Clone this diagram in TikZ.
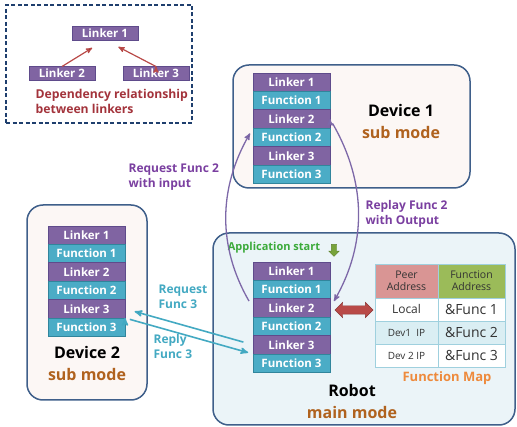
\documentclass[tikz,border=0pt]{standalone}
\usepackage{fontspec}
\setmainfont{Open Sans}
\usetikzlibrary{arrows,positioning,shapes.arrows}

\definecolor{linkerfill}{HTML}{8064A2}
\definecolor{linkerline}{HTML}{5F4B8B}
\definecolor{funcfill}{HTML}{4BACC6}
\definecolor{funcline}{HTML}{31859C}
\definecolor{boxline}{HTML}{3F5F8A}
\definecolor{subfill}{HTML}{FCF7F5}
\definecolor{mainfill}{HTML}{EBF4F8}
\definecolor{modetext}{HTML}{B0621E}
\definecolor{reqpurple}{HTML}{7A3FA0}
\definecolor{curvepurple}{HTML}{7D68A8}
\definecolor{reqteal}{HTML}{43A9C2}
\definecolor{deptext}{HTML}{A3333B}
\definecolor{deparrow}{HTML}{B94A48}
\definecolor{mapline}{HTML}{9FD0DE}
\definecolor{peerfill}{HTML}{D99594}
\definecolor{funcaddrfill}{HTML}{9BBB59}
\definecolor{rowblue}{HTML}{DAEEF3}
\definecolor{maporange}{HTML}{EE8A3C}
\definecolor{startgreen}{HTML}{3BAA3A}
\definecolor{startarrow}{HTML}{77A33A}
\definecolor{dashblue}{HTML}{1F3F6E}

\begin{document}
\begin{tikzpicture}[x=1pt, y=-1pt, >=stealth', semithick]
\tikzstyle{linker}=[draw=linkerline, fill=linkerfill, text=white, minimum width=77pt, minimum height=18.4pt, inner sep=0pt, outer sep=0pt, font=\fontsize{11.5}{12}\selectfont\bfseries]
\tikzstyle{func}=[linker, draw=funcline, fill=funcfill]
\tikzstyle{small linker}=[linker, minimum width=66pt, minimum height=14pt]
\tikzstyle{subbox}=[draw=boxline, line width=1.5pt, fill=subfill, rounded corners=16pt, inner sep=0pt]
\tikzstyle{mainbox}=[subbox, fill=mainfill]
\tikzstyle{title}=[font=\fontsize{16}{22}\selectfont\bfseries, align=center]
\tikzstyle{msg}=[font=\fontsize{12}{15}\selectfont\bfseries, align=left, anchor=west]
\tikzstyle{cell}=[draw=mapline, thick, minimum height=23pt, inner sep=0pt, outer sep=0pt, text=black!80]
\tikzstyle{dep}=[->, draw=deparrow, line width=1.2pt]
\tikzstyle{call}=[->, draw=curvepurple, line width=1.3pt]
\tikzstyle{remote}=[->, draw=reqteal, line width=1.6pt]

\useasboundingbox (0,0) rectangle (517,427);

% linker dependency legend
\node[draw=dashblue, line width=1.2pt, dash pattern=on 4pt off 2.5pt, minimum width=186pt, minimum height=118pt] (depbox) at (99,64) {};
\node[small linker] (dl1) at (105,33) {Linker 1};
\node[small linker] (dl2) at (62,73.5) {Linker 2};
\node[small linker] (dl3) at (156,73.5) {Linker 3};
\node[anchor=north west, align=left, text=deptext, font=\fontsize{12.2}{15}\selectfont\bfseries] (deptxt) at (32,86) {Dependency relationship\\between linkers};

\path[dep]
	(dl2.north) edge[shorten >=15pt] (dl1.south)
	(dl3.north) edge[shorten >=15pt] (dl1.south)
;

% the three modes
\node[subbox, minimum width=237pt, minimum height=123pt] (dev1) at (351.5,126.5) {};
\node[subbox, minimum width=120pt, minimum height=195pt] (dev2) at (87,302.5) {};
\node[mainbox, minimum width=302pt, minimum height=192pt] (robot) at (364,329) {};

\node[title] (dev1lbl) at (401,122) {Device 1\\{\color{modetext}sub mode}};
\node[title] (dev2lbl) at (87,363.5) {Device 2\\{\color{modetext}sub mode}};
\node[title] (robotlbl) at (352,402) {Robot\\{\color{modetext}main mode}};

% device 1 stack
\node[linker] (aL1) at (291.5,82.2) {Linker 1};
\node[func] (aF1) [below=0pt of aL1] {Function 1};
\node[linker] (aL2) [below=0pt of aF1] {Linker 2};
\node[func] (aF2) [below=0pt of aL2] {Function 2};
\node[linker] (aL3) [below=0pt of aF2] {Linker 3};
\node[func] (aF3) [below=0pt of aL3] {Function 3};

% device 2 stack
\node[linker] (dL1) at (86.5,235.2) {Linker 1};
\node[func] (dF1) [below=0pt of dL1] {Function 1};
\node[linker] (dL2) [below=0pt of dF1] {Linker 2};
\node[func] (dF2) [below=0pt of dL2] {Function 2};
\node[linker] (dL3) [below=0pt of dF2] {Linker 3};
\node[func] (dF3) [below=0pt of dL3] {Function 3};

% robot stack
\node[linker] (rL1) at (291.5,271.2) {Linker 1};
\node[func] (rF1) [below=0pt of rL1] {Function 1};
\node[linker] (rL2) [below=0pt of rF1] {Linker 2};
\node[func] (rF2) [below=0pt of rL2] {Function 2};
\node[linker] (rL3) [below=0pt of rF2] {Linker 3};
\node[func] (rF3) [below=0pt of rL3] {Function 3};

\node[text=startgreen, font=\fontsize{11}{12}\selectfont\bfseries] (start) at (274,248) {Application start};
\node[single arrow, shape border rotate=270, fill=startarrow, draw=startarrow!80!black, thin, inner sep=2.5pt, single arrow head extend=2.5pt, minimum height=12pt] (startarr) at (334,249) {};

% function map
\node[cell, fill=peerfill, minimum width=63pt, minimum height=34pt, align=center, font=\fontsize{10.5}{12}\selectfont] (peer) at (406.5,281) {Peer\\Address};
\node[cell, fill=funcaddrfill, minimum width=67pt, minimum height=34pt, align=center, font=\fontsize{10.5}{12}\selectfont] (faddr) [right=0pt of peer] {Function\\Address};
\node[cell, fill=white, minimum width=63pt, font=\fontsize{12}{14}\selectfont] (r1a) [below=0pt of peer] {Local};
\node[cell, fill=white, minimum width=67pt, font=\fontsize{14}{16}\selectfont] (r1b) [right=0pt of r1a] {\&Func 1};
\node[cell, fill=rowblue, minimum width=63pt, font=\fontsize{10}{12}\selectfont] (r2a) [below=0pt of r1a] {Dev1\ \ IP};
\node[cell, fill=rowblue, minimum width=67pt, font=\fontsize{14}{16}\selectfont] (r2b) [right=0pt of r2a] {\&Func 2};
\node[cell, fill=white, minimum width=63pt, font=\fontsize{10}{12}\selectfont] (r3a) [below=0pt of r2a] {Dev 2 IP};
\node[cell, fill=white, minimum width=67pt, font=\fontsize{14}{16}\selectfont] (r3b) [right=0pt of r3a] {\&Func 3};
\node[text=maporange, font=\fontsize{13}{15}\selectfont\bfseries] (maplbl) at (447,378) {Function Map};

\node[double arrow, fill=deparrow, draw=deparrow!75!black, thin, inner sep=4pt, double arrow head extend=3.5pt, minimum height=38pt] (lookup) at (354,310) {};

% calls between modes
\path[call]
	(rL2.west) edge[out=120, in=240, shorten <=8pt, shorten >=6pt] (aL2.south west)
	(aL2.east) edge[out=-60, in=60, shorten <=5pt, shorten >=8pt] (rL2.east)
;
\path[remote]
	(rL3.west) edge[shorten <=10pt, shorten >=10pt] (dL3.east)
	(dL3.south east) edge[shorten <=5pt, shorten >=5pt] (rL3.south west)
;

\node[msg, text=reqpurple] (req2) at (125,177.5) {Request Func 2\\with input};
\node[msg, text=reqpurple] (rep2) at (362,214) {Replay Func 2\\with Output};
\node[msg, text=reqteal] (req3) at (155,297) {Request\\Func 3};
\node[msg, text=reqteal] (rep3) at (150,346.5) {Reply\\Func 3};

\end{tikzpicture}
\end{document}
